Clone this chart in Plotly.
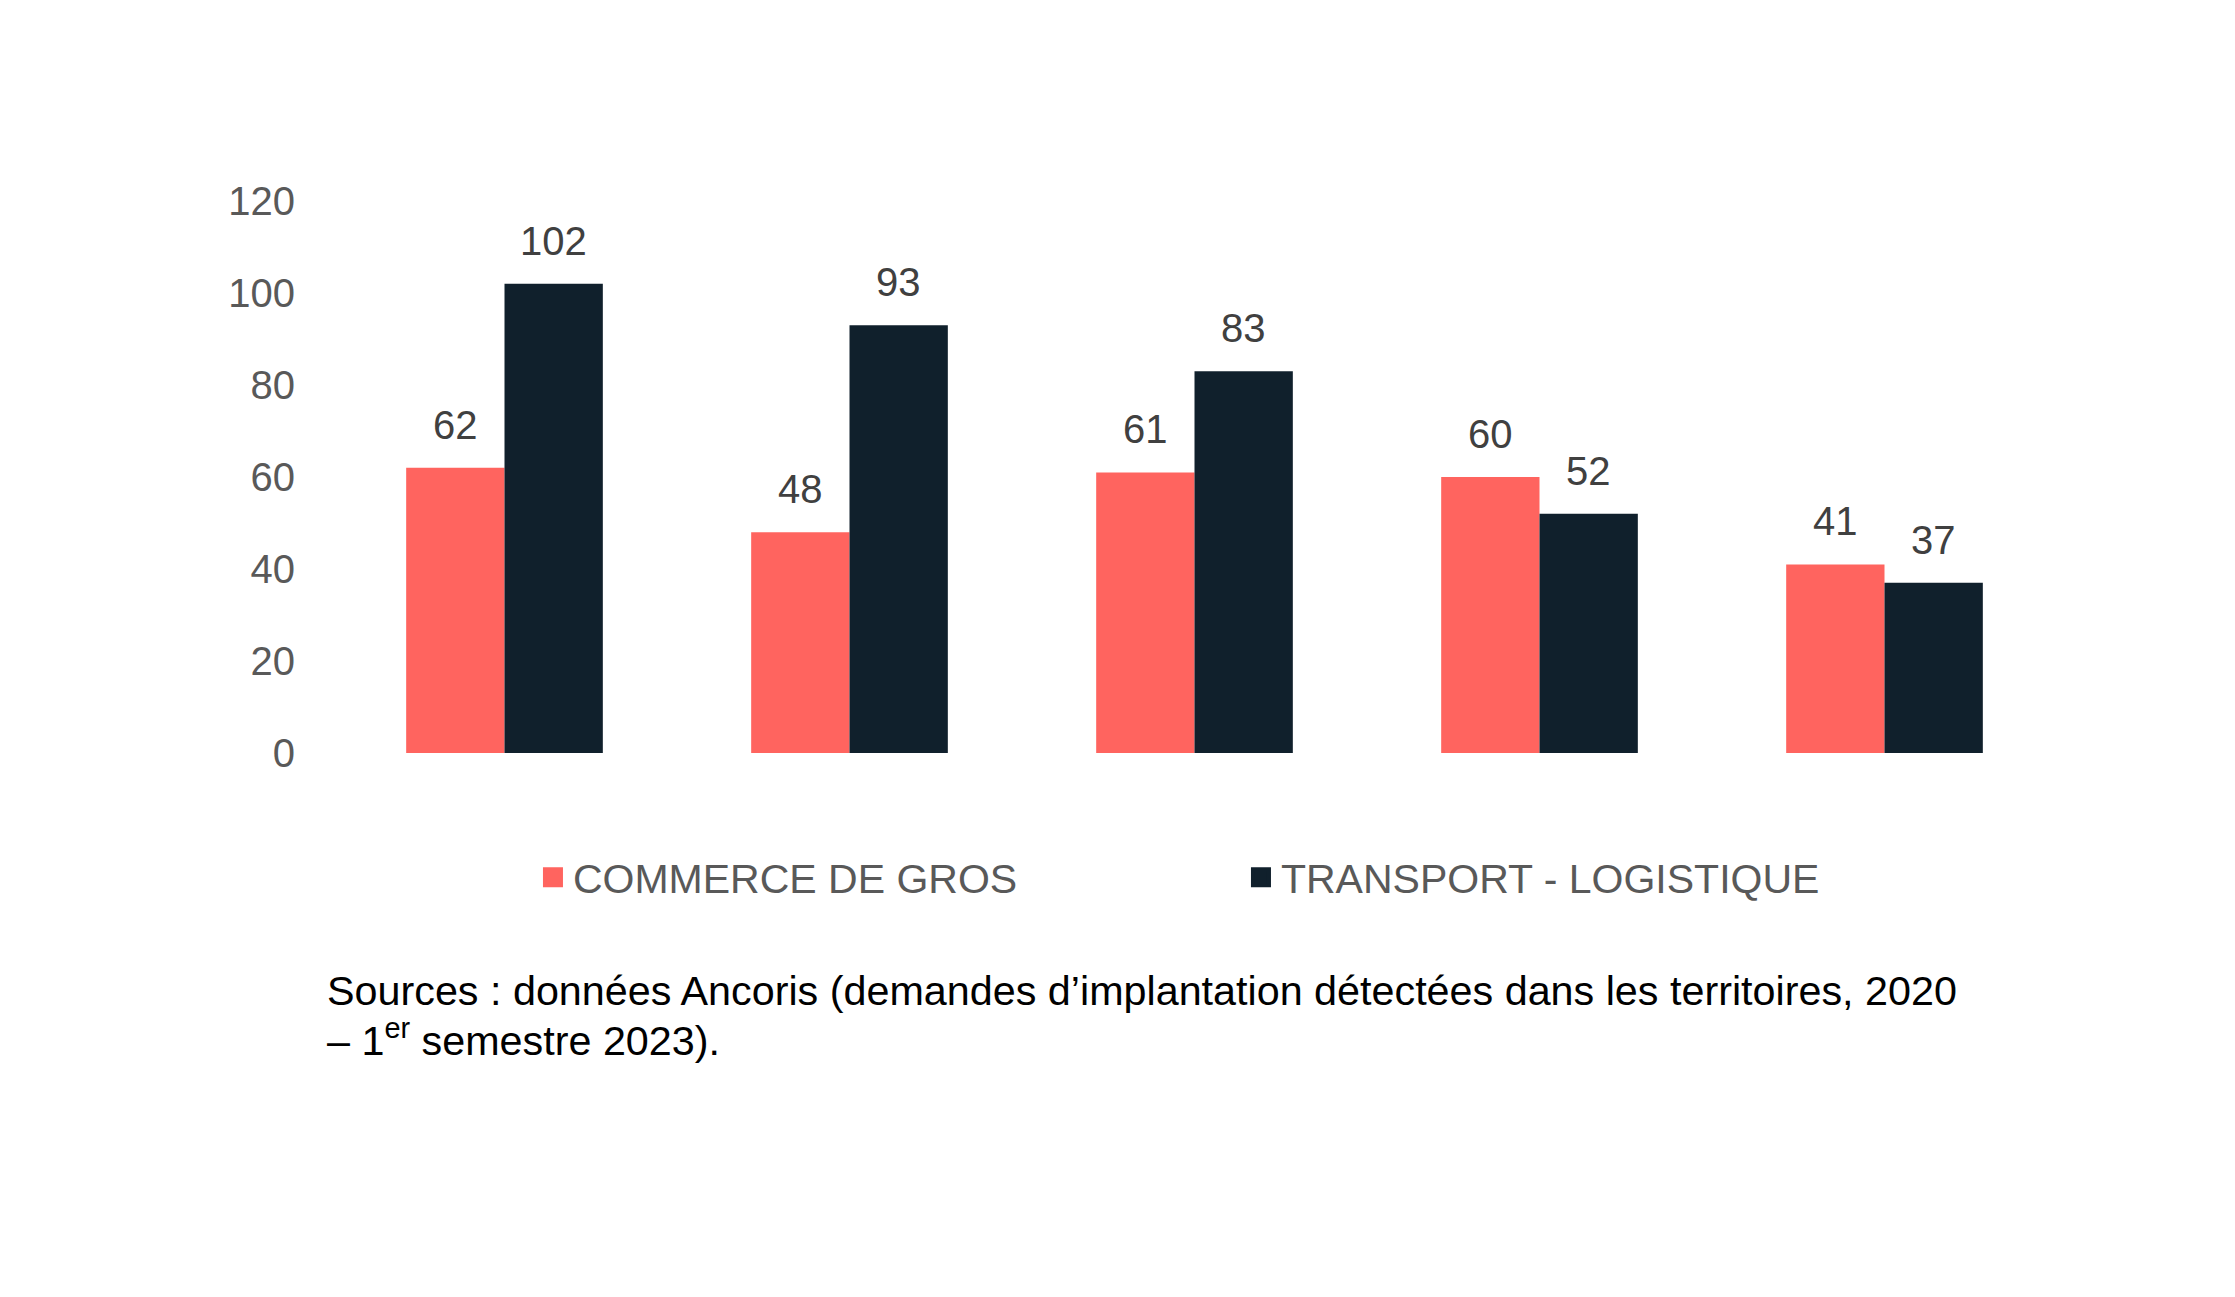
import plotly.graph_objects as go

categories = ["A", "B", "C", "D", "E"]
commerce_de_gros = [62, 48, 61, 60, 41]
transport_logistique = [102, 93, 83, 52, 37]
series_names = ["COMMERCE DE GROS", "TRANSPORT - LOGISTIQUE"]
y_ticks = [0, 20, 40, 60, 80, 100, 120]
source_line1 = "Sources : données Ancoris (demandes d’implantation détectées dans les territoires, 2020"
source_line2 = "– 1<sup>er</sup> semestre 2023)."

RED = "#FF645F"
DARK = "#10202C"
FONT = "Liberation Sans, Arial, sans-serif"
colors = [RED, DARK]

fig = go.Figure()
for name, vals, col in zip(series_names, [commerce_de_gros, transport_logistique], colors):
    fig.add_trace(go.Bar(x=categories, y=vals, name=name, showlegend=False,
                         marker=dict(color=col, line=dict(width=0))))
# legend proxies (square markers like the reference legend)
for name, col in zip(series_names, colors):
    fig.add_trace(go.Scatter(x=[None], y=[None], name=name, mode="markers",
                             marker=dict(symbol="square", size=16, color=col,
                                         line=dict(width=4, color=col))))

# data labels
half_bar_px = 49
for vals, shift in [(commerce_de_gros, -half_bar_px), (transport_logistique, half_bar_px)]:
    for c, v in zip(categories, vals):
        fig.add_annotation(x=c, y=v, xref="x", yref="y", text=str(v), showarrow=False,
                           xshift=shift, yshift=19, yanchor="bottom",
                           font=dict(family=FONT, size=40, color="#404040"))

for txt, ypos in [(source_line1, -0.4315), (source_line2, -0.5170)]:
    fig.add_annotation(xref="paper", yref="paper", x=-0.004, y=ypos, xanchor="left",
                       yanchor="middle", align="left", showarrow=False, text=txt,
                       font=dict(family=FONT, size=41.3, color="#000000"))

fig.update_layout(
    width=2235, height=1297,
    margin=dict(l=332, r=178, t=201, b=544, autoexpand=False),
    paper_bgcolor="white", plot_bgcolor="white",
    barmode="group", bargap=0.43, bargroupgap=0,
    font=dict(family=FONT, size=40, color="#595959"),
    showlegend=True,
    legend=dict(orientation="h", x=0.1165, xanchor="left", y=-0.2255, yanchor="middle",
                font=dict(family=FONT, size=41, color="#595959"),
                entrywidth=663, entrywidthmode="pixels", traceorder="normal",
                itemsizing="trace", bgcolor="rgba(0,0,0,0)"),
    xaxis=dict(showticklabels=False, showgrid=False, zeroline=False, showline=False,
               ticks=""),
    yaxis=dict(range=[0, 120], tickvals=y_ticks, showgrid=False, zeroline=False,
               showline=False, ticks="", ticklabelstandoff=36,
               tickfont=dict(family=FONT, size=40, color="#595959")),
)

fig.write_html("out.html")
